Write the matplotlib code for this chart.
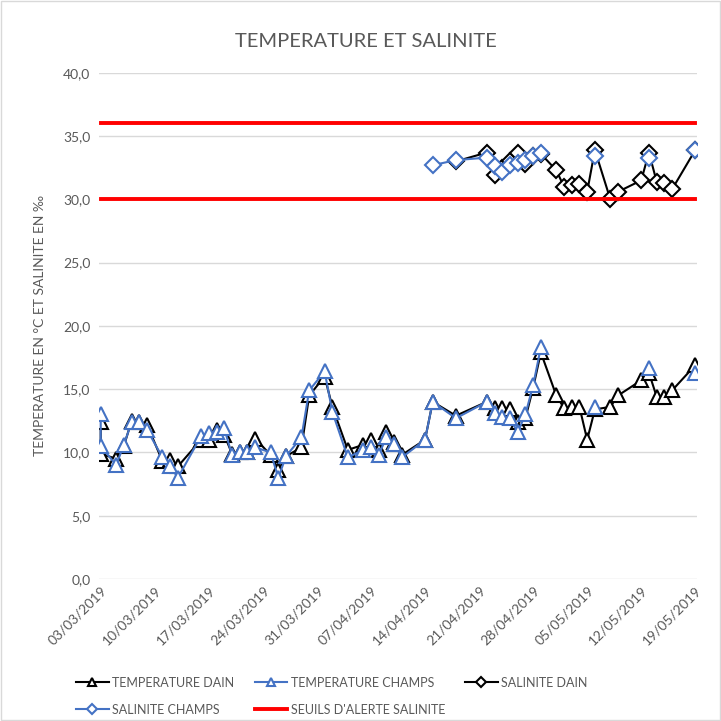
import numpy as np
import pandas as pd
import matplotlib
matplotlib.use('Agg')
import matplotlib.pyplot as plt
from matplotlib.patches import Rectangle

plt.rcParams['font.family'] = ['Lato', 'DejaVu Sans']

nan = np.nan

# dates des mesures de temperature
temp_dates = ['03/03/2019', '03/03/2019', '05/03/2019', '06/03/2019', '07/03/2019', '08/03/2019',
              '09/03/2019', '11/03/2019', '12/03/2019', '13/03/2019', '16/03/2019', '17/03/2019',
              '18/03/2019', '19/03/2019', '20/03/2019', '21/03/2019', '22/03/2019', '23/03/2019',
              '25/03/2019', '26/03/2019', '27/03/2019', '29/03/2019', '30/03/2019', '01/04/2019',
              '02/04/2019', '04/04/2019', '06/04/2019', '07/04/2019', '08/04/2019', '09/04/2019',
              '10/04/2019', '11/04/2019', '14/04/2019', '15/04/2019', '18/04/2019', '22/04/2019',
              '23/04/2019', '24/04/2019', '25/04/2019', '26/04/2019', '27/04/2019', '28/04/2019',
              '29/04/2019', '01/05/2019', '02/05/2019', '03/05/2019', '04/05/2019', '05/05/2019',
              '06/05/2019', '08/05/2019', '09/05/2019', '12/05/2019', '13/05/2019', '14/05/2019',
              '15/05/2019', '16/05/2019', '19/05/2019']
temp_dain = [12.4, 9.9, 9.5, 10.5, 12.5, 12.4, 12.2, 9.3, 9.4, 8.9, 11.0, 11.0,
             11.8, 11.4, 9.9, 10.0, 10.0, 11.1, 9.8, 8.6, 9.7, 10.4, 14.5, 16.0,
             13.6, 10.2, 10.6, 11.0, 10.2, 11.6, 10.8, 9.8, 11.0, 14.0, 12.9, 14.0,
             13.5, 13.5, 13.4, 12.4, 12.7, 15.1, 17.9, 14.5, 13.5, 13.6, 13.6, 11.0,
             13.4, 13.6, 14.5, 15.7, 16.3, 14.4, 14.4, 14.9, 16.9]
temp_champs = [13.0, 10.5, 9.0, 10.6, 12.4, 12.4, 11.8, 9.6, 8.9, 8.0, 11.3, 11.5,
               11.6, 11.9, 9.8, 10.0, 10.0, 10.4, 10.0, 8.0, 9.7, 11.2, 14.9, 16.4,
               13.2, 9.6, 10.2, 10.4, 9.8, 11.2, 10.7, 9.6, 11.0, 14.0, 12.7, 14.0,
               13.1, 12.8, 12.7, 11.6, 13.0, 15.3, 18.3, nan, nan, nan, nan, nan,
               13.6, nan, nan, nan, 16.7, nan, nan, nan, 16.3]

# dates des mesures de salinite
sal_dates = ['15/04/2019', '18/04/2019', '22/04/2019', '23/04/2019', '24/04/2019', '25/04/2019',
             '26/04/2019', '27/04/2019', '28/04/2019', '29/04/2019', '01/05/2019', '02/05/2019',
             '03/05/2019', '04/05/2019', '05/05/2019', '06/05/2019', '08/05/2019', '09/05/2019',
             '12/05/2019', '13/05/2019', '14/05/2019', '15/05/2019', '16/05/2019', '19/05/2019']
sal_dain = [nan, 33.0, 33.7, 31.9, 32.5, 33.0, 33.7, 32.8, 33.4, 33.6, 32.3, 31.0,
            31.1, 31.2, 30.6, 33.9, 30.0, 30.6, 31.5, 33.7, 31.4, 31.3, 30.8, 33.9]
sal_champs = [32.7, 33.1, 33.3, 32.6, 32.2, 32.7, 32.9, 33.1, 33.4, 33.7, nan, nan,
              nan, nan, nan, 33.4, nan, nan, nan, 33.3, nan, nan, nan, 33.9]

seuils = [30.0, 36.0]
seuil_dates = ['03/03/2019', '19/05/2019']

td = pd.to_datetime(temp_dates, dayfirst=True)
sd = pd.to_datetime(sal_dates, dayfirst=True)
bd = pd.to_datetime(seuil_dates, dayfirst=True)

black = '#000000'
blue = '#4472C4'
grey = '#595959'

fig = plt.figure(figsize=(7.21, 7.21), dpi=100)
ax = fig.add_axes([0.137, 0.197, 0.830, 0.702])

h_td, = ax.plot(td, temp_dain, color=black, lw=1.5, marker='^', ms=10,
                mfc='white', mec=black, mew=1.5, label='TEMPERATURE DAIN')
h_tc, = ax.plot(td, temp_champs, color=blue, lw=1.5, marker='^', ms=10,
                mfc='white', mec=blue, mew=1.5, label='TEMPERATURE CHAMPS')
h_sd, = ax.plot(sd, sal_dain, color=black, lw=1.5, marker='D', ms=8,
                mfc='white', mec=black, mew=1.5, label='SALINITE DAIN')
h_sc, = ax.plot(sd, sal_champs, color=blue, lw=1.5, marker='D', ms=8,
                mfc='white', mec=blue, mew=1.5, label='SALINITE CHAMPS')
for s in seuils:
    h_s, = ax.plot(bd, [s, s], color='#FF0000', lw=2.8, label="SEUILS D'ALERTE SALINITE")

ax.set_ylim(0, 40)
ax.set_yticks(np.arange(0, 41, 5))
ax.set_yticklabels([f'{v:.1f}'.replace('.', ',') for v in np.arange(0, 41, 5)])
ax.set_xlim(bd[0] - pd.Timedelta(hours=6), bd[1] + pd.Timedelta(hours=6))
ticks = pd.date_range(bd[0], bd[1], freq='7D')
ax.set_xticks(ticks)
ax.set_xticklabels([t.strftime('%d/%m/%Y') for t in ticks], rotation=45, ha='right',
                   rotation_mode='anchor')

ax.grid(axis='y', color='#D9D9D9', lw=1)
ax.set_axisbelow(True)
for sp in ax.spines.values():
    sp.set_visible(False)
ax.tick_params(axis='both', length=0, labelsize=10, colors=grey, pad=6)
ax.tick_params(axis='x', pad=4)

ax.set_ylabel('TEMPERATURE EN °C ET SALINITE EN ‰', fontsize=10, color=grey, labelpad=12)
fig.text(0.508, 0.943, 'TEMPERATURE ET SALINITE', ha='center', va='center',
         fontsize=14.5, color=grey)

fig.legend([h_td, h_sc, h_tc, h_s, h_sd],
           ['TEMPERATURE DAIN', 'SALINITE CHAMPS', 'TEMPERATURE CHAMPS',
            "SEUILS D'ALERTE SALINITE", 'SALINITE DAIN'],
           ncol=3, loc='lower left', bbox_to_anchor=(0.09, -0.008), frameon=False,
           fontsize=9, labelcolor=grey, markerscale=0.6, handlelength=2.6,
           columnspacing=1.6, handletextpad=0.3, labelspacing=1.2)

fig.add_artist(Rectangle((0.001, 0.001), 0.997, 0.997, transform=fig.transFigure,
                         fill=False, edgecolor='#D9D9D9', lw=1))

fig.savefig('out.png', dpi=100)
